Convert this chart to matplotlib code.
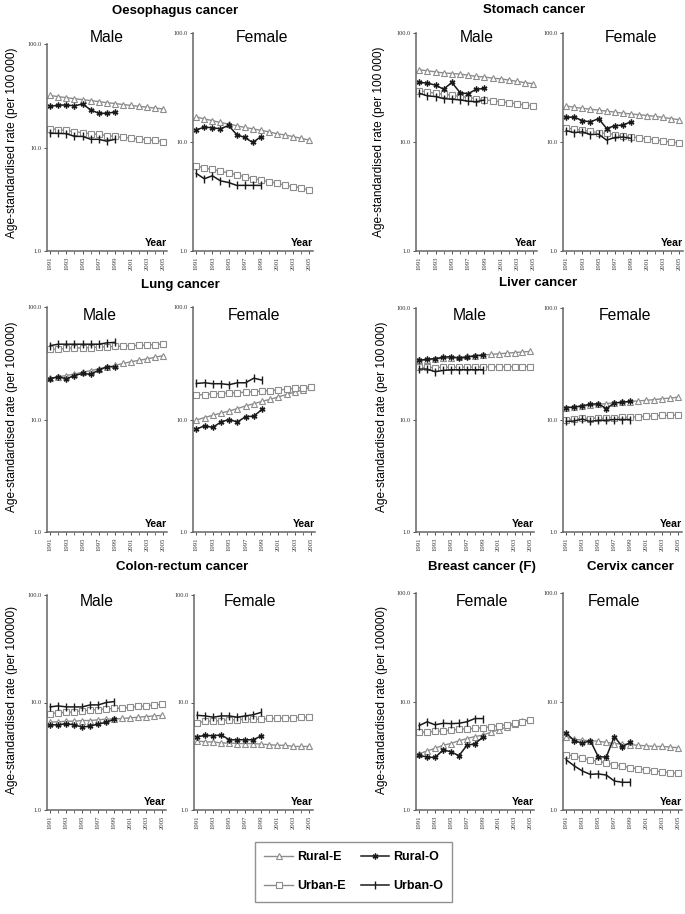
import matplotlib
matplotlib.use("Agg")
import matplotlib.pyplot as plt

plt.rcParams['font.family'] = ['Liberation Sans', 'DejaVu Sans']

W, H = 685, 914

years_e = [1991, 1992, 1993, 1994, 1995, 1996, 1997, 1998, 1999, 2000, 2001, 2002, 2003, 2004, 2005]
years_o = [1991, 1992, 1993, 1994, 1995, 1996, 1997, 1998, 1999]
year_labels = ['1991', '1993', '1995', '1997', '1999', '2001', '2003', '2005']
series_names = ['Rural-E', 'Rural-O', 'Urban-E', 'Urban-O']

# Oesophagus
oes_m_rural_e = [31.8, 31.0, 30.3, 29.6, 29.0, 28.4, 27.8, 27.1, 26.6, 26.0, 25.5, 25.0, 24.5, 24.0, 23.6]
oes_m_rural_o = [24.9, 25.7, 25.7, 25.3, 26.3, 23.1, 21.4, 21.4, 22.0]
oes_m_urban_e = [15.2, 14.9, 14.6, 14.2, 13.9, 13.6, 13.4, 13.0, 12.8, 12.5, 12.3, 12.1, 11.9, 11.7, 11.4]
oes_m_urban_o = [13.7, 13.7, 13.6, 12.8, 12.8, 12.0, 12.0, 11.5, 12.0]
oes_f_rural_e = [17.0, 16.3, 15.7, 15.1, 14.6, 14.1, 13.6, 13.2, 12.8, 12.4, 11.9, 11.6, 11.2, 10.8, 10.4]
oes_f_rural_o = [12.9, 13.7, 13.5, 13.2, 14.2, 11.7, 11.0, 9.9, 11.2]
oes_f_urban_e = [6.0, 5.8, 5.6, 5.4, 5.2, 5.0, 4.8, 4.6, 4.5, 4.3, 4.2, 4.0, 3.9, 3.8, 3.6]
oes_f_urban_o = [5.15, 4.6, 4.9, 4.4, 4.25, 4.0, 4.0, 4.0, 4.0]
# Stomach
sto_m_rural_e = [46.0, 45.0, 44.0, 43.0, 42.5, 42.0, 41.0, 40.0, 39.5, 38.5, 38.0, 37.0, 36.0, 35.0, 34.2]
sto_m_rural_o = [35.2, 34.7, 33.2, 30.5, 35.2, 28.4, 27.7, 30.5, 31.0]
sto_m_urban_e = [29.5, 28.8, 28.0, 27.4, 26.8, 26.2, 25.6, 25.0, 24.4, 23.9, 23.4, 22.9, 22.4, 21.9, 21.4]
sto_m_urban_o = [28.0, 26.5, 26.1, 25.0, 24.7, 24.3, 23.7, 23.4, 24.3]
sto_f_rural_e = [21.4, 20.8, 20.4, 20.0, 19.6, 19.2, 18.8, 18.4, 18.1, 17.8, 17.5, 17.2, 16.8, 16.4, 16.0]
sto_f_rural_o = [16.9, 16.9, 15.7, 15.3, 16.4, 13.3, 14.1, 14.3, 15.3]
sto_f_urban_e = [13.4, 13.1, 12.8, 12.5, 12.2, 12.0, 11.7, 11.4, 11.2, 10.9, 10.7, 10.5, 10.2, 10.0, 9.8]
sto_f_urban_o = [12.7, 12.2, 12.4, 11.7, 11.8, 10.4, 11.0, 11.1, 10.8]
# Lung
lung_m_rural_e = [23.2, 24.0, 24.6, 25.4, 26.3, 27.2, 28.2, 29.2, 30.2, 31.5, 32.6, 33.6, 34.6, 35.8, 37.0]
lung_m_rural_o = [23.0, 24.0, 23.0, 24.6, 25.7, 25.2, 27.5, 29.4, 29.4]
lung_m_urban_e = [42.5, 42.0, 43.0, 43.3, 43.2, 43.6, 44.0, 44.3, 44.6, 45.0, 45.3, 45.6, 46.0, 46.4, 47.0]
lung_m_urban_o = [45.4, 46.7, 46.7, 46.7, 46.7, 46.7, 46.7, 48.0, 48.5]
lung_f_rural_e = [9.9, 10.4, 10.9, 11.4, 11.9, 12.5, 13.2, 13.8, 14.5, 15.1, 15.9, 16.7, 17.5, 18.4, 19.3]
lung_f_rural_o = [8.2, 8.8, 8.5, 9.5, 10.0, 9.5, 10.6, 10.7, 12.3]
lung_f_urban_e = [16.6, 16.6, 16.9, 17.0, 17.2, 17.3, 17.5, 17.7, 17.9, 18.1, 18.3, 18.6, 18.9, 19.2, 19.6]
lung_f_urban_o = [20.9, 21.2, 20.8, 20.8, 20.4, 21.2, 21.2, 23.3, 22.4]
# Liver
liv_m_rural_e = [34.0, 34.5, 35.0, 35.5, 36.0, 36.5, 37.0, 37.5, 38.0, 38.5, 39.0, 39.5, 40.0, 40.5, 41.0]
liv_m_rural_o = [34.1, 34.9, 35.3, 36.3, 36.8, 35.5, 36.3, 37.4, 37.9]
liv_m_urban_e = [29.5, 29.5, 29.4, 29.6, 29.5, 29.6, 29.6, 29.7, 29.7, 29.8, 29.8, 29.9, 29.9, 30.0, 30.0]
liv_m_urban_o = [28.5, 28.5, 27.0, 27.7, 28.1, 28.1, 28.1, 28.1, 28.1]
liv_f_rural_e = [12.9, 13.1, 13.3, 13.5, 13.8, 14.0, 14.2, 14.4, 14.6, 14.8, 15.0, 15.2, 15.5, 15.7, 16.0]
liv_f_rural_o = [12.9, 13.0, 13.4, 13.8, 14.0, 12.6, 14.2, 14.4, 14.7]
liv_f_urban_e = [10.1, 10.2, 10.4, 10.3, 10.4, 10.4, 10.5, 10.6, 10.6, 10.7, 10.8, 10.9, 11.0, 11.0, 11.1]
liv_f_urban_o = [9.7, 9.8, 10.2, 9.7, 9.95, 9.95, 10.1, 10.1, 10.1]
# Colon-rectum
col_m_rural_e = [6.6, 6.6, 6.7, 6.7, 6.8, 6.8, 6.9, 7.0, 7.0, 7.1, 7.2, 7.3, 7.4, 7.5, 7.6]
col_m_rural_o = [6.2, 6.2, 6.35, 6.2, 5.9, 6.05, 6.3, 6.55, 7.0]
col_m_urban_e = [7.9, 8.0, 8.1, 8.2, 8.4, 8.5, 8.6, 8.7, 8.8, 8.9, 9.0, 9.2, 9.3, 9.5, 9.6]
col_m_urban_o = [9.1, 9.3, 9.1, 9.1, 9.1, 9.5, 9.5, 10.0, 10.2]
col_f_rural_e = [4.4, 4.3, 4.3, 4.2, 4.2, 4.15, 4.15, 4.15, 4.1, 4.05, 4.0, 4.0, 3.9, 3.9, 3.9]
col_f_rural_o = [4.8, 4.95, 4.9, 5.0, 4.5, 4.5, 4.5, 4.5, 4.9]
col_f_urban_e = [6.5, 6.7, 6.7, 6.8, 6.9, 6.9, 7.0, 7.0, 7.0, 7.1, 7.1, 7.2, 7.2, 7.3, 7.3]
col_f_urban_o = [7.6, 7.5, 7.3, 7.5, 7.5, 7.3, 7.5, 7.7, 8.1]
# Breast (F)
bre_f_rural_e = [3.3, 3.5, 3.7, 3.95, 4.1, 4.35, 4.55, 4.75, 4.9, 5.2, 5.5, 5.8, 6.2, 6.6, 6.8]
bre_f_rural_o = [3.2, 3.07, 3.05, 3.57, 3.45, 3.16, 3.94, 4.08, 4.67]
bre_f_urban_e = [5.2, 5.25, 5.3, 5.35, 5.45, 5.55, 5.6, 5.65, 5.75, 5.85, 6.0, 6.1, 6.3, 6.5, 6.75]
bre_f_urban_o = [6.0, 6.5, 6.1, 6.3, 6.25, 6.3, 6.5, 6.96, 6.96]
# Cervix
cer_f_rural_e = [4.7, 4.5, 4.4, 4.35, 4.3, 4.2, 4.1, 4.05, 4.0, 3.95, 3.9, 3.85, 3.85, 3.8, 3.75]
cer_f_rural_o = [5.1, 4.36, 4.12, 4.36, 3.1, 3.07, 4.75, 3.84, 4.2]
cer_f_urban_e = [3.24, 3.15, 3.0, 2.9, 2.8, 2.72, 2.6, 2.55, 2.45, 2.4, 2.35, 2.3, 2.25, 2.2, 2.18]
cer_f_urban_o = [2.9, 2.55, 2.29, 2.13, 2.15, 2.1, 1.85, 1.8, 1.8]

GRAY = '#8c8c8c'
BLACK = '#1a1a1a'
STYLE = {
    'Rural-E': dict(color=GRAY, marker='^', mfc='white', mec=GRAY, ms=4.5, lw=1.0, mew=0.8),
    'Rural-O': dict(color=BLACK, marker=(6, 2, 0), mfc=BLACK, mec=BLACK, ms=4.2, lw=1.1, mew=1.0),
    'Urban-E': dict(color=GRAY, marker='s', mfc='white', mec=GRAY, ms=4.0, lw=1.0, mew=0.8),
    'Urban-O': dict(color=BLACK, marker='|', mfc=BLACK, mec=BLACK, ms=5.5, lw=1.1, mew=1.0),
}

fig = plt.figure(figsize=(W / 100, H / 100), dpi=100)


def px_axes(l, r, t, b):
    return fig.add_axes([l / W, 1 - b / H, (r - l) / W, (b - t) / H])


def draw_panel(box, data, sex, sex_xy):
    ax = px_axes(*box)
    re, ro, ue, uo = data
    ax.plot(years_e, re, label='Rural-E', **STYLE['Rural-E'])
    ax.plot(years_e, ue, label='Urban-E', **STYLE['Urban-E'])
    ax.plot(years_o, ro, label='Rural-O', **STYLE['Rural-O'])
    ax.plot(years_o, uo, label='Urban-O', **STYLE['Urban-O'])
    ax.set_yscale('log')
    ax.set_ylim(1, 100)
    ax.set_xlim(1990.6, 2005.45)
    ax.set_yticks([1, 10, 100])
    ax.set_yticklabels(['1.0', '10.0', '100.0'], family='Liberation Serif', fontsize=4.6)
    ax.yaxis.set_minor_locator(matplotlib.ticker.NullLocator())
    ax.set_xticks([int(s) for s in year_labels])
    ax.set_xticklabels(year_labels, rotation=90, family='Liberation Serif', fontsize=4.8)
    ax.set_xticks(years_e, minor=True)
    ax.tick_params(axis='both', which='major', length=2.5, width=0.6, pad=1.5, colors='#333333')
    ax.tick_params(axis='x', which='minor', length=2.0, width=0.5, colors='#333333')
    for s in ['top', 'right']:
        ax.spines[s].set_visible(False)
    ax.spines['left'].set_color('#666666')
    ax.spines['bottom'].set_color('#666666')
    ax.spines['left'].set_linewidth(1.1)
    ax.spines['bottom'].set_linewidth(1.1)
    ax.text(1.0, 0.015, 'Year', transform=ax.transAxes, ha='right', va='bottom',
            fontsize=7.6, fontweight='bold')
    fig.text(sex_xy[0] / W, 1 - sex_xy[1] / H, sex, ha='center', va='center', fontsize=11.3)
    return ax


panels = [
    ((47, 167, 44, 251), (oes_m_rural_e, oes_m_rural_o, oes_m_urban_e, oes_m_urban_o), 'Male', (107, 37)),
    ((193, 313, 33, 251), (oes_f_rural_e, oes_f_rural_o, oes_f_urban_e, oes_f_urban_o), 'Female', (262, 37)),
    ((416, 537, 33, 251), (sto_m_rural_e, sto_m_rural_o, sto_m_urban_e, sto_m_urban_o), 'Male', (477, 37)),
    ((563, 683, 33, 251), (sto_f_rural_e, sto_f_rural_o, sto_f_urban_e, sto_f_urban_o), 'Female', (631, 37)),
    ((47, 167, 307, 532), (lung_m_rural_e, lung_m_rural_o, lung_m_urban_e, lung_m_urban_o), 'Male', (100, 316)),
    ((193, 315, 307, 532), (lung_f_rural_e, lung_f_rural_o, lung_f_urban_e, lung_f_urban_o), 'Female', (254, 316)),
    ((416, 534, 308, 532), (liv_m_rural_e, liv_m_rural_o, liv_m_urban_e, liv_m_urban_o), 'Male', (470, 316)),
    ((563, 682, 308, 532), (liv_f_rural_e, liv_f_rural_o, liv_f_urban_e, liv_f_urban_o), 'Female', (625, 316)),
    ((47, 166, 595, 810), (col_m_rural_e, col_m_rural_o, col_m_urban_e, col_m_urban_o), 'Male', (97, 602)),
    ((194, 313, 595, 810), (col_f_rural_e, col_f_rural_o, col_f_urban_e, col_f_urban_o), 'Female', (250, 602)),
    ((416, 534, 593, 810), (bre_f_rural_e, bre_f_rural_o, bre_f_urban_e, bre_f_urban_o), 'Female', (482, 602)),
    ((563, 682, 593, 810), (cer_f_rural_e, cer_f_rural_o, cer_f_urban_e, cer_f_urban_o), 'Female', (614, 602)),
]

axes = []
for box, data, sex, xy in panels:
    axes.append(draw_panel(box, data, sex, xy))

titles = [
    ('Oesophagus cancer', 175, 11), ('Stomach cancer', 534, 10),
    ('Lung cancer', 180, 285), ('Liver cancer', 538, 283),
    ('Colon-rectum cancer', 182, 567), ('Breast cancer (F)', 482, 567),
    ('Cervix cancer', 630, 567),
]
for txt, x, y in titles:
    fig.text(x / W, 1 - y / H, txt, ha='center', va='center', fontsize=9.5, fontweight='bold')

ylab_a = 'Age-standardised rate (per 100\u2009000)'
ylab_b = 'Age-standardised rate (per 100000)'
for txt, x, y in [(ylab_a, 12, 143), (ylab_a, 379, 142), (ylab_a, 12, 417),
                  (ylab_a, 382, 417), (ylab_b, 12, 700), (ylab_b, 382, 700)]:
    fig.text(x / W, 1 - y / H, txt, rotation=90, ha='center', va='center', fontsize=8.6)

h, l = axes[0].get_legend_handles_labels()
order = ['Rural-E', 'Urban-E', 'Rural-O', 'Urban-O']
hs = [h[l.index(o)] for o in order]
leg = fig.legend(hs, order, ncol=2, loc='upper left',
                 bbox_to_anchor=(255 / W, 1 - 842 / H), borderaxespad=0.0,
                 frameon=True, fancybox=False,
                 edgecolor='#777777', prop={'weight': 'bold', 'size': 9},
                 handlelength=2.3, columnspacing=1.2, labelspacing=1.35,
                 borderpad=0.75, handletextpad=0.3)
leg.get_frame().set_linewidth(1.0)

fig.savefig('out.png', dpi=100)
